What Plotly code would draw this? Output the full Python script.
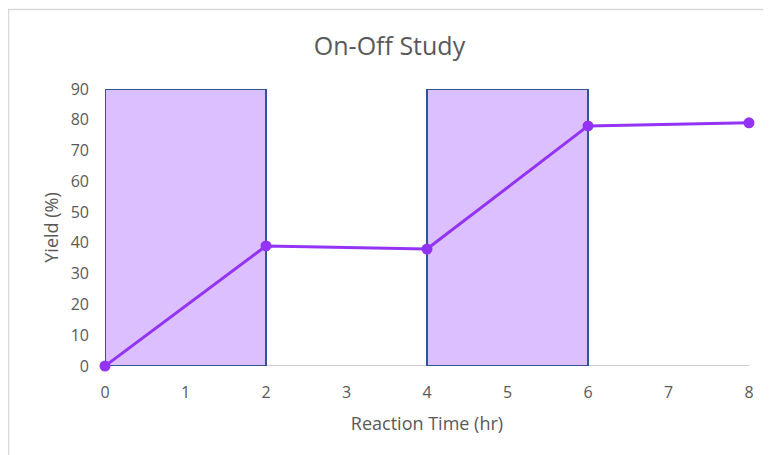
import plotly.graph_objects as go

time_hr = [0, 2, 4, 6, 8]
yield_pct = [0, 39, 38, 78, 79]

on_start = [0, 4]
on_end = [2, 6]
on_height = [90, 90]

x_ticks = [0, 1, 2, 3, 4, 5, 6, 7, 8]
y_ticks = [0, 10, 20, 30, 40, 50, 60, 70, 80, 90]

FONT = "Open Sans"
GREY = "#595959"

fig = go.Figure()

fig.add_trace(go.Bar(
    x=[(s + e) / 2 for s, e in zip(on_start, on_end)],
    y=on_height,
    width=[e - s for s, e in zip(on_start, on_end)],
    marker=dict(color="#DBBFFF", line=dict(color="#2F5597", width=2)),
    showlegend=False,
    hoverinfo="skip",
    cliponaxis=False,
))

fig.add_trace(go.Scatter(
    x=time_hr, y=yield_pct, mode="lines+markers",
    line=dict(color="#9333F5", width=3),
    marker=dict(color="#9333F5", size=11),
    showlegend=False,
    cliponaxis=False,
))

# page is offset by the 8px body margin
W, H = 763, 447
L, R, T, B = 97, 22, 81, 89
pw, ph = W - L - R, H - T - B

def px_x(p):
    return (p - L) / pw

def px_y(p):
    return (H - B - p) / ph

fig.add_shape(type="rect", xref="paper", yref="paper",
              x0=px_x(0.5), x1=px_x(800), y0=px_y(1.5), y1=px_y(480),
              line=dict(color="#D9D9D9", width=1.5), fillcolor="rgba(0,0,0,0)", layer="below")

fig.update_layout(
    width=W, height=H,
    margin=dict(l=L, r=R, t=T, b=B),
    paper_bgcolor="white", plot_bgcolor="white",
    font=dict(family=FONT, color=GREY, size=16),
    title=dict(text="On-Off Study", x=0.5, xanchor="center", xref="container",
               y=1 - 38 / H, yanchor="middle",
               font=dict(family=FONT, size=25, color=GREY)),
    bargap=0,
    xaxis=dict(range=[0, 8], tickvals=x_ticks, showgrid=False, zeroline=False,
               showline=False, ticks="", ticklabelstandoff=15,
               title=dict(text="Reaction Time (hr)", font=dict(size=18, color=GREY), standoff=15),
               tickfont=dict(size=16, color=GREY)),
    yaxis=dict(range=[0, 90], tickvals=y_ticks, showgrid=False, zeroline=False,
               showline=False, ticks="", ticklabelstandoff=15,
               title=dict(text="Yield (%)", font=dict(size=18, color=GREY), standoff=7),
               tickfont=dict(size=16, color=GREY)),
)

fig.add_shape(type="line", xref="paper", yref="y", x0=0, x1=1, y0=0, y1=0,
              line=dict(color="#BFBFBF", width=1.5), layer="below")

fig.write_html("out.html")
